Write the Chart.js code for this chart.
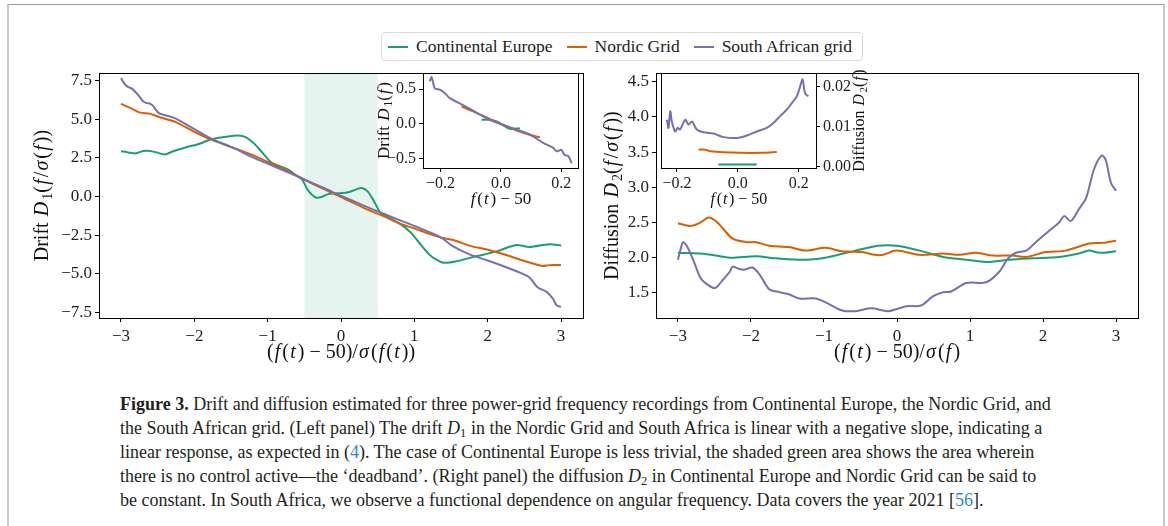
<!DOCTYPE html>
<html lang="en">
<head>
<meta charset="UTF-8" />
<title>Figure 3 – Drift and diffusion</title>
<script src="https://cdn.jsdelivr.net/npm/chart.js"></script>
<style>
  * { box-sizing: border-box; margin: 0; padding: 0; }

  body {
    width: 1168px;
    height: 526px;
    background: #fff;
    overflow: hidden;
    position: relative;
    font-family: 'Liberation Serif', serif;
  }

  .frame {
    position: absolute;
    left: 7px;
    top: 4px;
    width: 1158px;
    height: 560px;
    border-top: 1px solid #9a9a9a;
    border-left: 2px solid #c8c8c8;
    border-right: 2px solid #c8c8c8;
  }

  canvas { position: absolute; }
  #cLeft  { left: 20px;  top: 60px; }
  #cRight { left: 600px; top: 60px; }
  #cLeftIn  { left: 360px; top: 60px; }
  #cRightIn { left: 640px; top: 60px; }

  .legend {
    position: absolute;
    left: 381px;
    top: 32px;
    width: 482px;
    height: 29px;
    border: 1px solid #dcdcdc;
    border-radius: 4px;
    display: flex;
    align-items: center;
    padding-left: 6px;
    font-size: 17.5px;
    color: #222;
    white-space: nowrap;
  }
  .legend .item { display: flex; align-items: center; margin-right: 14px; }
  .legend .swatch { width: 20px; height: 2px; margin-right: 8px; }

  .caption {
    position: absolute;
    left: 120px;
    top: 392px;
    font-size: 18px;
    line-height: 24px;
    color: #231f20;
    white-space: nowrap;
  }
  .caption .ref { color: #2b8ccb; }
  .caption sub { font-size: 0.7em; vertical-align: baseline; position: relative; top: 0.2em; line-height: 0; }
</style>
</head>
<body>

<div class="frame"></div>

<div class="legend" id="legend"></div>

<canvas id="cLeft" width="580" height="310"></canvas>
<canvas id="cRight" width="560" height="310"></canvas>
<canvas id="cLeftIn" width="230" height="156"></canvas>
<canvas id="cRightIn" width="240" height="156"></canvas>

<div class="caption">
  <div><b>Figure 3.</b> Drift and diffusion estimated for three power-grid frequency recordings from Continental Europe, the Nordic Grid, and</div>
  <div>the South African grid. (Left panel) The drift <i>D</i><sub>1</sub> in the Nordic Grid and South Africa is linear with a negative slope, indicating a</div>
  <div>linear response, as expected in (<span class="ref">4</span>). The case of Continental Europe is less trivial, the shaded green area shows the area wherein</div>
  <div>there is no control active—the ‘deadband’. (Right panel) the diffusion <i>D</i><sub>2</sub> in Continental Europe and Nordic Grid can be said to</div>
  <div>be constant. In South Africa, we observe a functional dependence on angular frequency. Data covers the year 2021 [<span class="ref">56</span>].</div>
</div>

<script>
  const seriesNames = ['Continental Europe', 'Nordic Grid', 'South African grid'];
  const seriesColors = ['#1b9e77', '#d95f02', '#7570b3'];

  // left panel, drift D1 vs normalised frequency
  const driftEuX = [-3.0, -2.9, -2.8, -2.7, -2.63, -2.53, -2.4, -2.3, -2.12, -1.94, -1.76, -1.6, -1.4, -1.3, -1.2, -1.1, -0.95, -0.85, -0.72, -0.62, -0.53, -0.45, -0.35, -0.28, -0.16, 0.0, 0.1, 0.2, 0.28, 0.36, 0.45, 0.53, 0.62, 0.8, 0.94, 1.05, 1.2, 1.3, 1.4, 1.57, 1.84, 2.12, 2.39, 2.57, 2.84, 3.0];
  const driftEuY = [2.94, 2.86, 2.80, 2.95, 2.97, 2.88, 2.73, 2.92, 3.18, 3.41, 3.73, 3.86, 3.96, 3.85, 3.5, 3.0, 2.2, 2.0, 1.75, 1.4, 1.1, 0.4, -0.05, -0.05, 0.18, 0.22, 0.28, 0.45, 0.55, 0.35, -0.3, -1.0, -1.3, -1.76, -2.29, -2.9, -3.75, -4.09, -4.3, -4.2, -3.88, -3.56, -3.14, -3.28, -3.09, -3.18];

  const driftNoX = [-3.0, -2.85, -2.75, -2.6, -2.48, -2.26, -2.0, -1.76, -1.49, -1.21, -1.0, -0.7, -0.4, 0.0, 0.34, 0.58, 0.8, 1.0, 1.35, 1.53, 1.76, 2.0, 2.21, 2.48, 2.75, 2.84, 3.0];
  const driftNoY = [6.01, 5.69, 5.46, 5.36, 5.16, 4.84, 4.2, 3.67, 3.2, 2.7, 2.24, 1.6, 0.85, -0.03, -0.8, -1.27, -1.75, -2.08, -2.65, -2.82, -3.2, -3.45, -3.73, -4.15, -4.51, -4.45, -4.45];

  const driftSaX = [-3.0, -2.95, -2.9, -2.85, -2.75, -2.71, -2.66, -2.6, -2.56, -2.49, -2.44, -2.26, -2.0, -1.76, -1.49, -1.21, -1.0, -0.69, -0.4, -0.24, 0.0, 0.21, 0.58, 1.0, 1.35, 1.53, 1.76, 2.0, 2.21, 2.44, 2.57, 2.68, 2.8, 2.89, 2.94, 3.0];
  const driftSaY = [7.68, 7.3, 7.1, 7.0, 6.5, 6.23, 6.08, 6.01, 5.86, 5.44, 5.33, 5.07, 4.37, 3.73, 3.2, 2.56, 2.13, 1.5, 0.9, 0.57, 0.05, -0.38, -1.12, -1.91, -2.61, -3.24, -3.77, -4.15, -4.51, -4.94, -5.25, -5.89, -6.17, -6.63, -7.06, -7.16];

  const deadband = [-0.5, 0.5];

  // left inset, drift D1 vs f(t) - 50
  const driftInEuX = [-0.064, -0.036, -0.01, 0.0, 0.03, 0.063];
  const driftInEuY = [0.06, 0.06, 0.03, 0.0, -0.07, -0.06];
  const driftInNoX = [-0.13, -0.08, -0.036, 0.0, 0.05, 0.1, 0.129];
  const driftInNoY = [0.25, 0.16, 0.07, 0.0, -0.09, -0.16, -0.19];
  const driftInSaX = [-0.235, -0.229, -0.224, -0.218, -0.202, -0.185, -0.169, -0.125, -0.08, -0.036, 0.0, 0.052, 0.096, 0.14, 0.173, 0.184, 0.2, 0.21, 0.223, 0.234];
  const driftInSaY = [0.61, 0.67, 0.59, 0.51, 0.49, 0.44, 0.37, 0.27, 0.16, 0.06, 0.0, -0.08, -0.15, -0.27, -0.34, -0.39, -0.37, -0.44, -0.46, -0.56];

  // right panel, diffusion D2 vs normalised frequency
  const diffEuX = [-3.0, -2.6, -2.29, -1.93, -1.65, -1.25, -0.93, -0.57, -0.26, 0.0, 0.31, 0.63, 0.95, 1.22, 1.54, 1.86, 2.22, 2.49, 2.63, 2.77, 3.0];
  const diffEuY = [2.07, 2.05, 2.0, 2.02, 1.99, 1.97, 2.01, 2.1, 2.17, 2.17, 2.1, 2.01, 1.97, 1.94, 1.97, 1.99, 2.01, 2.06, 2.1, 2.07, 2.09];

  const diffNoX = [-3.0, -2.83, -2.69, -2.58, -2.47, -2.38, -2.25, -2.06, -1.93, -1.75, -1.48, -1.25, -0.98, -0.75, -0.48, -0.3, -0.19, -0.01, 0.31, 0.63, 0.86, 1.08, 1.31, 1.58, 1.77, 2.04, 2.31, 2.63, 2.81, 3.0];
  const diffNoY = [2.49, 2.45, 2.5, 2.57, 2.51, 2.41, 2.27, 2.22, 2.22, 2.17, 2.15, 2.1, 2.14, 2.09, 2.08, 2.04, 2.04, 2.1, 2.04, 2.06, 2.04, 2.07, 2.03, 2.03, 2.01, 2.08, 2.1, 2.2, 2.21, 2.24];

  const diffSaX = [-3.0, -2.96, -2.93, -2.87, -2.78, -2.69, -2.6, -2.51, -2.47, -2.38, -2.29, -2.25, -2.16, -2.09, -1.98, -1.88, -1.75, -1.61, -1.48, -1.34, -1.11, -0.93, -0.75, -0.57, -0.35, -0.12, 0.13, 0.33, 0.49, 0.63, 0.74, 0.95, 1.22, 1.4, 1.52, 1.63, 1.77, 1.9, 2.08, 2.22, 2.29, 2.38, 2.49, 2.59, 2.68, 2.74, 2.81, 2.86, 2.93, 3.0];
  const diffSaY = [1.97, 2.13, 2.22, 2.15, 1.94, 1.71, 1.62, 1.57, 1.58, 1.69, 1.8, 1.87, 1.84, 1.83, 1.86, 1.76, 1.55, 1.51, 1.48, 1.42, 1.42, 1.34, 1.25, 1.24, 1.28, 1.24, 1.31, 1.32, 1.45, 1.51, 1.52, 1.64, 1.65, 1.8, 1.99, 2.07, 2.1, 2.22, 2.38, 2.5, 2.59, 2.52, 2.69, 2.85, 3.2, 3.36, 3.45, 3.38, 3.06, 2.95];

  // right inset, diffusion D2 vs f(t) - 50
  const diffInEuX = [-0.064, 0.0, 0.062];
  const diffInEuY = [0.0006, 0.0006, 0.0006];
  const diffInNoX = [-0.129, -0.107, -0.091, 0.008, 0.084, 0.128];
  const diffInNoY = [0.0043, 0.0043, 0.0039, 0.0035, 0.0035, 0.0037];
  const diffInSaX = [-0.233, -0.228, -0.222, -0.217, -0.206, -0.198, -0.19, -0.173, -0.162, -0.151, -0.135, -0.113, -0.08, -0.047, -0.003, 0.03, 0.062, 0.095, 0.117, 0.139, 0.161, 0.178, 0.194, 0.205, 0.213, 0.221, 0.232];
  const diffInSaY = [0.0117, 0.0097, 0.0138, 0.0113, 0.0088, 0.0097, 0.0093, 0.0117, 0.0105, 0.0113, 0.0093, 0.0086, 0.0083, 0.0074, 0.0072, 0.0078, 0.0088, 0.0097, 0.0109, 0.0126, 0.0142, 0.0159, 0.0175, 0.02, 0.0217, 0.0183, 0.0175];

  // ticks
  const mainXTicks = [-3, -2, -1, 0, 1, 2, 3];
  const driftYTicks = [-7.5, -5, -2.5, 0, 2.5, 5, 7.5];
  const diffYTicks = [1.5, 2, 2.5, 3, 3.5, 4, 4.5];
  const insetXTicks = [-0.2, 0, 0.2];
  const driftInYTicks = [-0.5, 0, 0.5];
  const diffInYTicks = [0, 0.01, 0.02];

  // legend
  const legendEl = document.getElementById('legend');
  seriesNames.forEach((name, i) => {
    legendEl.innerHTML += `<span class="item"><span class="swatch" style="background:${seriesColors[i]}"></span>${name}</span>`;
  });

  const fmt = (v, d) => v.toFixed(d).replace('-', '\u2212');
  const pts = (xs, ys) => xs.map((x, i) => ({ x, y: ys[i] }));

  function lines(sets) {
    return sets.map((s, i) => ({
      label: seriesNames[i],
      data: pts(s[0], s[1]),
      borderColor: seriesColors[i],
      borderWidth: 2,
      pointRadius: 0,
      tension: 0.3,
      fill: false,
      order: 3 - i
    }));
  }

  // text with *italic* parts and _x subscripts
  function drawMath(ctx, text, x, y, size, rotate) {
    const segs = [];
    let it = false;
    for (let i = 0; i < text.length; i++) {
      const c = text[i];
      if (c === '*') { it = !it; continue; }
      if (c === '_') { segs.push({ t: text[++i], it: false, sub: true }); continue; }
      const last = segs[segs.length - 1];
      if (last && last.it === it && !last.sub) last.t += c;
      else segs.push({ t: c, it, sub: false });
    }
    const fontOf = s => `${s.it ? 'italic ' : ''}${s.sub ? Math.round(size * 0.7) : size}px "Liberation Serif"`;
    let w = 0;
    segs.forEach(s => {
      ctx.font = fontOf(s);
      s.w = ctx.measureText(s.t).width + (s.it ? size * 0.16 : 0);
      w += s.w;
    });
    ctx.save();
    ctx.translate(x, y);
    if (rotate) ctx.rotate(-Math.PI / 2);
    ctx.fillStyle = '#111';
    ctx.textBaseline = 'middle';
    let cx = -w / 2;
    segs.forEach(s => {
      ctx.font = fontOf(s);
      ctx.fillText(s.t, cx + (s.it ? size * 0.06 : 0), s.sub ? size * 0.25 : 0);
      cx += s.w;
    });
    ctx.restore();
  }

  const frameBox = {
    id: 'frameBox',
    beforeDraw(chart) {
      const { ctx, chartArea: a } = chart;
      ctx.save();
      ctx.fillStyle = '#fff';
      ctx.fillRect(a.left, a.top, a.width, a.height);
      ctx.restore();
    },
    beforeDatasetsDraw(chart, args, opts) {
      if (!opts.band) return;
      const { ctx, chartArea: a, scales } = chart;
      const x0 = scales.x.getPixelForValue(opts.band[0]);
      const x1 = scales.x.getPixelForValue(opts.band[1]);
      ctx.save();
      ctx.fillStyle = 'rgba(27, 158, 119, 0.11)';
      ctx.fillRect(x0, a.top, x1 - x0, a.height);
      ctx.restore();
    },
    afterDraw(chart, args, opts) {
      const { ctx, chartArea: a } = chart;
      ctx.save();
      ctx.strokeStyle = '#000';
      ctx.lineWidth = 1;
      ctx.strokeRect(Math.round(a.left) + 0.5, Math.round(a.top) + 0.5, Math.round(a.width), Math.round(a.height));
      ctx.restore();
      const cx = (a.left + a.right) / 2, cy = (a.top + a.bottom) / 2;
      drawMath(ctx, opts.xTitle, cx, a.bottom + opts.xOff, opts.size, false);
      const yx = opts.yRight ? a.right + opts.yOff : a.left - opts.yOff;
      drawMath(ctx, opts.yTitle, yx, cy, opts.size, true);
    }
  };

  function axis(min, max, ticks, dec, size, fit, position, pad) {
    return {
      type: 'linear',
      position,
      min,
      max,
      afterBuildTicks: s => { s.ticks = ticks.map(v => ({ value: v })); },
      afterFit: s => { if (s.isHorizontal()) s.height = fit; else s.width = fit; },
      grid: { drawOnChartArea: false, drawTicks: true, tickLength: 4, color: '#000', tickColor: '#000' },
      border: { display: false },
      ticks: {
        color: '#222',
        font: { family: 'Liberation Serif', size },
        padding: pad,
        maxRotation: 0,
        autoSkip: false,
        callback: v => fmt(v, dec)
      }
    };
  }

  function panel(id, datasets, pad, xAxis, yAxis, titles) {
    return new Chart(document.getElementById(id), {
      type: 'line',
      data: { datasets },
      options: {
        responsive: false,
        animation: false,
        devicePixelRatio: 1,
        layout: { padding: pad },
        plugins: {
          legend: { display: false },
          tooltip: { enabled: false },
          frameBox: titles
        },
        scales: { x: xAxis, y: yAxis }
      },
      plugins: [frameBox]
    });
  }

  panel('cLeft',
    lines([[driftEuX, driftEuY], [driftNoX, driftNoY], [driftSaX, driftSaY]]),
    { left: 0, top: 8, right: 17, bottom: 0 },
    axis(-3.3, 3.3, mainXTicks, 0, 17, 52, 'bottom', 4),
    axis(-7.88, 8.0, driftYTicks, 1, 17, 79, 'left', 3),
    { xTitle: '(*f*(*t*) \u2212 50)/*σ*(*f*(*t*))', yTitle: 'Drift *D*_1(*f*/*σ*(*f*))', xOff: 35, yOff: 56, size: 20, band: deadband });

  panel('cRight',
    lines([[diffEuX, diffEuY], [diffNoX, diffNoY], [diffSaX, diffSaY]]),
    { left: 0, top: 8, right: 22, bottom: 0 },
    axis(-3.3, 3.3, mainXTicks, 0, 17, 52, 'bottom', 4),
    axis(1.143, 4.62, diffYTicks, 1, 17, 56, 'left', 3),
    { xTitle: '(*f*(*t*) \u2212 50)/*σ*(*f*)', yTitle: 'Diffusion *D*_2(*f*/*σ*(*f*))', xOff: 35, yOff: 43, size: 20 });

  panel('cLeftIn',
    lines([[driftInEuX, driftInEuY], [driftInNoX, driftInNoY], [driftInSaX, driftInSaY]]),
    { left: 0, top: 13, right: 12, bottom: 0 },
    axis(-0.2575, 0.255, insetXTicks, 1, 16, 48, 'bottom', 2),
    axis(-0.629, 0.729, driftInYTicks, 1, 16, 63, 'left', 3),
    { xTitle: '*f*(*t*) \u2212 50', yTitle: 'Drift *D*_1(*f*)', xOff: 32, yOff: 38, size: 17 });

  panel('cRightIn',
    lines([[diffInEuX, diffInEuY], [diffInNoX, diffInNoY], [diffInSaX, diffInSaY]]),
    { left: 21, top: 13, right: 0, bottom: 0 },
    axis(-0.2526, 0.257, insetXTicks, 1, 16, 48, 'bottom', 2),
    axis(-0.00025, 0.0233, diffInYTicks, 2, 16, 64, 'right', 3),
    { xTitle: '*f*(*t*) \u2212 50', yTitle: 'Diffusion *D*_2(*f*)', xOff: 32, yOff: 44, size: 16, yRight: true });
</script>

</body>
</html>
